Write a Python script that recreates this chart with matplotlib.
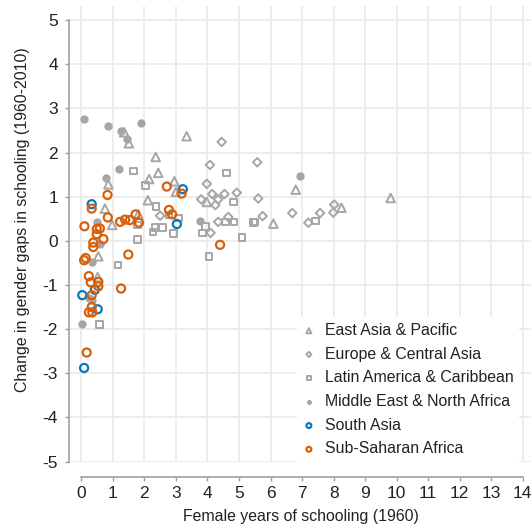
import matplotlib
matplotlib.use('Agg')
import numpy as np
import matplotlib.pyplot as plt

plt.rcParams['font.family'] = ['Liberation Sans', 'DejaVu Sans']
plt.rcParams['axes.unicode_minus'] = False

# female years of schooling in 1960 (x) and change in gender gap 1960-2010 (y)
eap_x = [1.36, 1.51, 3.34, 2.36, 2.44, 2.15, 2.95, 3.00, 2.11, 0.86, 0.75, 1.81, 0.98,
         0.54, 0.52, 3.98, 6.09, 6.80, 8.25, 9.81]
eap_y = [2.46, 2.21, 2.37, 1.90, 1.54, 1.40, 1.35, 1.11, 0.92, 1.28, 0.73, 0.60, 0.36,
         -0.35, -0.82, 0.88, 0.39, 1.16, 0.75, 0.97]

eca_x = [4.45, 4.08, 5.58, 3.98, 4.15, 4.54, 4.93, 4.34, 3.80, 4.25, 5.61, 2.50, 4.34,
         4.66, 5.75, 4.10, 6.69, 7.20, 7.57, 8.02, 7.99]
eca_y = [2.24, 1.72, 1.78, 1.29, 1.06, 1.06, 1.09, 0.94, 0.94, 0.81, 0.96, 0.57, 0.43,
         0.54, 0.56, 0.18, 0.63, 0.41, 0.63, 0.82, 0.64]

lac_x = [1.65, 2.04, 2.37, 1.78, 2.34, 2.58, 2.28, 2.92, 3.08, 2.78, 1.78, 1.17, 0.57,
         4.61, 4.82, 3.94, 3.85, 4.58, 4.84, 5.46, 5.51, 5.09, 4.05, 7.43]
lac_y = [1.58, 1.25, 0.78, 0.36, 0.30, 0.30, 0.20, 0.17, 0.52, 0.58, 0.03, -0.55, -1.89,
         1.54, 0.88, 0.33, 0.18, 0.43, 0.43, 0.41, 0.43, 0.07, -0.36, 0.45]

mena_x = [0.09, 0.86, 1.26, 1.44, 1.20, 0.78, 1.90, 6.93, 3.77, 0.51, 0.59, 0.33, 0.25,
          0.34, 0.03]
mena_y = [2.77, 2.60, 2.49, 2.30, 1.62, 1.43, 2.66, 1.47, 0.45, 0.43, -0.08, -0.47, -1.29,
          -1.34, -1.89]

sa_x = [0.33, 3.22, 3.03, 0.03, 0.43, 0.52, 0.09]
sa_y = [0.83, 1.17, 0.38, -1.23, -1.11, -1.55, -2.88]

ssa_x = [0.83, 2.71, 3.18, 0.33, 0.84, 0.10, 1.23, 1.39, 1.54, 1.72, 1.83, 2.78, 2.88,
         0.49, 0.59, 0.49, 0.70, 0.38, 0.38, 1.49, 0.14, 0.09, 0.24, 0.30, 0.54, 0.54,
         1.26, 0.33, 0.33, 0.24, 0.35, 0.17, 4.40]
ssa_y = [1.04, 1.23, 1.07, 0.73, 0.53, 0.33, 0.43, 0.48, 0.47, 0.60, 0.41, 0.70, 0.60,
         0.27, 0.28, 0.15, 0.04, -0.04, -0.14, -0.31, -0.39, -0.44, -0.80, -0.94, -0.93,
         -1.03, -1.08, -1.23, -1.50, -1.62, -1.62, -2.53, -0.09]

gray = '#a6a6a6'
blue = '#0a78b8'
orange = '#d9600a'

fig = plt.figure(figsize=(5.31, 5.24), dpi=100)
ax = fig.add_axes([69/531, 62/524, 462/531, 456/524])

ax.scatter(eap_x, eap_y, marker='^', s=38, facecolors='none', edgecolors=gray,
           linewidths=1.4, label='East Asia & Pacific', zorder=3)
ax.scatter(eca_x, eca_y, marker='D', s=19, facecolors='none', edgecolors=gray,
           linewidths=1.4, label='Europe & Central Asia', zorder=3)
ax.scatter(lac_x, lac_y, marker='s', s=22, facecolors='none', edgecolors=gray,
           linewidths=1.4, label='Latin America & Caribbean', zorder=3)
ax.scatter(mena_x, mena_y, marker='o', s=36, color=gray, linewidths=0,
           label='Middle East & North Africa', zorder=3)
ax.scatter(sa_x, sa_y, marker='o', s=34, facecolors='none', edgecolors=blue,
           linewidths=1.6, label='South Asia', zorder=3)
ax.scatter(ssa_x, ssa_y, marker='o', s=34, facecolors='none', edgecolors=orange,
           linewidths=1.6, label='Sub-Saharan Africa', zorder=3)

ax.set_xlim(-0.39, 14.26)
ax.set_ylim(-5.01, 5.32)
ax.set_xticks(np.arange(0, 15, 1))
ax.set_yticks(np.arange(-5, 6, 1))
ax.grid(True, color='#ececec', linewidth=1.3)
ax.set_axisbelow(True)

for s in ['top', 'right']:
    ax.spines[s].set_visible(False)
ax.spines['left'].set_bounds(-5, 5)
ax.spines['bottom'].set_bounds(0, 14)
ax.spines['bottom'].set_position(('outward', 11))
for s in ['left', 'bottom']:
    ax.spines[s].set_color('#a0a0a0')
    ax.spines[s].set_linewidth(1.2)
ax.tick_params(colors='#a0a0a0', labelcolor='#222222', labelsize=12.5,
               length=3, width=1.0)
ax.tick_params(axis='x', pad=3)
ax.tick_params(axis='y', pad=5)

ax.set_xlabel('Female years of schooling (1960)', fontsize=11.4, color='#222222')
ax.set_ylabel('Change in gender gaps in schooling (1960-2010)', fontsize=11.4,
              color='#222222')
ax.xaxis.set_label_coords(0.503, -0.104)
ax.yaxis.set_label_coords(-0.085, 0.531)

leg = ax.legend(loc='lower right', bbox_to_anchor=(1.0 - 12/462, 0.0), fontsize=11.4,
                frameon=True, facecolor='white', edgecolor='none', framealpha=1,
                fancybox=False, markerscale=0.6, handlelength=0.8,
                handletextpad=0.6, labelspacing=0.55, borderpad=0.35,
                borderaxespad=0)
for t in leg.get_texts():
    t.set_color('#222222')

fig.savefig('out.png', dpi=100)
